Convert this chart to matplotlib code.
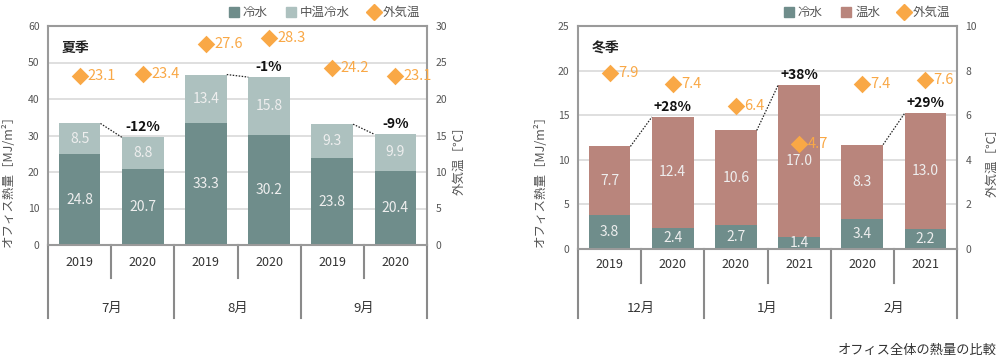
import numpy as np
import matplotlib
matplotlib.use("Agg")
import matplotlib.pyplot as plt
from matplotlib.patches import Patch
from matplotlib.lines import Line2D
import matplotlib.transforms as mtransforms

plt.rcParams['font.family'] = ['Noto Sans CJK JP', 'DejaVu Sans']

# summer data
summer_years = ["2019", "2020", "2019", "2020", "2019", "2020"]
summer_months = ["7月", "8月", "9月"]
summer_cold = [24.8, 20.7, 33.3, 30.2, 23.8, 20.4]
summer_mid = [8.5, 8.8, 13.4, 15.8, 9.3, 9.9]
summer_temp = [23.1, 23.4, 27.6, 28.3, 24.2, 23.1]
summer_pct = ["-12%", "-1%", "-9%"]

# winter data
winter_years = ["2019", "2020", "2020", "2021", "2020", "2021"]
winter_months = ["12月", "1月", "2月"]
winter_cold = [3.8, 2.4, 2.7, 1.4, 3.4, 2.2]
winter_hot = [7.7, 12.4, 10.6, 17.0, 8.3, 13.0]
winter_temp = [7.9, 7.4, 6.4, 4.7, 7.4, 7.6]
winter_pct = ["+28%", "+38%", "+29%"]

C_COLD = "#6f8d8b"
C_MID = "#adc1bf"
C_HOT = "#b9857c"
C_TEMP = "#f9a846"
C_FRAME = "#9a9a9a"
C_GRID = "#d9d9d9"
C_TEXT = "#555555"

W, H = 1000, 359
fig = plt.figure(figsize=(10, 3.59), dpi=100)


def px_axes(left, top, right, bottom):
    return fig.add_axes([left / W, 1 - bottom / H, (right - left) / W, (bottom - top) / H])


def draw_panel(ax, top_vals, bottom_vals, top_color, temps, pcts, ymax, ystep,
               tmax, tstep, title, years, months, year_off, yearsep_off,
               month_off, monthsep_off, ax_h_px):
    x = np.arange(len(bottom_vals))
    bw = 0.66
    bottom_vals = np.array(bottom_vals)
    top_vals = np.array(top_vals)
    ax.bar(x, bottom_vals, width=bw, color=C_COLD, zorder=2)
    ax.bar(x, top_vals, width=bw, bottom=bottom_vals, color=top_color, zorder=2)
    for xi, b, t in zip(x, bottom_vals, top_vals):
        ax.text(xi, b / 2, f"{b:.1f}", ha="center", va="center", color="#eeeeee",
                fontsize=10, zorder=3)
        ax.text(xi, b + t / 2, f"{t:.1f}", ha="center", va="center", color="#eeeeee",
                fontsize=10, zorder=3)
    totals = bottom_vals + top_vals
    for k, p in enumerate(pcts):
        i0, i1 = 2 * k, 2 * k + 1
        ax.plot([i0 + bw / 2, i1 - bw / 2], [totals[i0], totals[i1]], color="#222222",
                linestyle=(0, (1.2, 1.2)), linewidth=0.9, zorder=3)
        ax.text(i1, totals[i1] + ymax * 0.015, p, ha="center", va="bottom",
                fontsize=10, fontweight="bold", color="#111111", zorder=4)

    ax.set_xlim(-0.5, len(x) - 0.5)
    ax.set_ylim(0, ymax)
    ax.set_yticks(np.arange(0, ymax + 0.1, ystep))
    ax.yaxis.grid(True, color=C_GRID, linewidth=1.2, zorder=0)
    ax.set_axisbelow(True)
    ax.set_xticks([])
    ax.tick_params(axis="y", length=0, labelsize=7.5, labelcolor=C_TEXT, pad=6)
    for s in ax.spines.values():
        s.set_color(C_FRAME)
        s.set_linewidth(1.5)

    ax2 = ax.twinx()
    ax2.set_ylim(0, tmax)
    ax2.set_yticks(np.arange(0, tmax + 0.1, tstep))
    ax2.tick_params(axis="y", length=0, labelsize=7.5, labelcolor=C_TEXT, pad=6)
    for s in ax2.spines.values():
        s.set_visible(False)
    ax2.scatter(x, temps, marker="D", s=80, color=C_TEMP, zorder=5, linewidths=0)
    for xi, t in zip(x, temps):
        ax2.text(xi + 0.13, t, f"{t:.1f}", ha="left", va="center", color=C_TEMP,
                 fontsize=10.5, zorder=5)

    ax.text(0.035, 0.9, title, transform=ax.transAxes, fontsize=10, fontweight="bold",
            color="#222222", ha="left", va="center")

    # category axis below
    tr = mtransforms.blended_transform_factory(ax.transData, ax.transAxes)
    f = lambda p: -p / ax_h_px
    for i, yl in enumerate(years):
        ax.text(i, f(year_off), yl, transform=tr, ha="center", va="center",
                fontsize=9, color="#333333")
    for i in range(1, len(years), 2):
        ax.plot([i - 0.5, i - 0.5], [0, f(yearsep_off)], transform=tr, color="#8a8a8a",
                linewidth=1.5, clip_on=False)
    for j in range(0, len(years) + 1, 2):
        ax.plot([j - 0.5, j - 0.5], [0, f(monthsep_off)], transform=tr, color="#8a8a8a",
                linewidth=1.5, clip_on=False)
    for j, m in enumerate(months):
        ax.text(2 * j + 0.5, f(month_off), m, transform=tr, ha="center", va="center",
                fontsize=9.5, color="#333333")
    return ax2


def add_legend(ax, top_color, top_name):
    handles = [Patch(color=C_COLD), Patch(color=top_color),
               Line2D([], [], marker="D", color=C_TEMP, linestyle="none", markersize=8)]
    ax.legend(handles=handles, labels=["冷水", top_name, "外気温"], ncol=3, frameon=False,
              loc="lower right", bbox_to_anchor=(1.0, 1.0), fontsize=9,
              handlelength=0.8, handleheight=0.8, handletextpad=0.3, columnspacing=1.5,
              labelcolor=C_TEXT, borderaxespad=0.15)


# summer panel
ax1 = px_axes(48, 26, 427, 245)
draw_panel(ax1, summer_mid, summer_cold, C_MID, summer_temp, summer_pct, 60, 10, 30, 5,
           "夏季", summer_years, summer_months, 18, 33, 63, 73, 219)
add_legend(ax1, C_MID, "中温冷水")

# winter panel
ax3 = px_axes(578, 26, 957, 249)
draw_panel(ax3, winter_hot, winter_cold, C_HOT, winter_temp, winter_pct, 25, 5, 10, 2,
           "冬季", winter_years, winter_months, 16, 34, 59, 69, 223)
add_legend(ax3, C_HOT, "温水")

# axis titles
ylab = "オフィス熱量［MJ/m²］"
tlab = "外気温［℃］"
fig.text(8 / W, 1 - 178 / H, ylab, rotation=90, ha="center", va="center", fontsize=9,
         color=C_TEXT)
fig.text(540 / W, 1 - 178 / H, ylab, rotation=90, ha="center", va="center", fontsize=9,
         color=C_TEXT)
fig.text(459 / W, 1 - 157 / H, tlab, rotation=90, ha="center", va="center", fontsize=9,
         color=C_TEXT)
fig.text(992 / W, 1 - 160 / H, tlab, rotation=90, ha="center", va="center", fontsize=9,
         color=C_TEXT)

fig.text(997 / W, 1 - 350 / H, "オフィス全体の熱量の比較", ha="right", va="center",
         fontsize=9.5, color="#333333")

fig.savefig("out.png", dpi=100)
